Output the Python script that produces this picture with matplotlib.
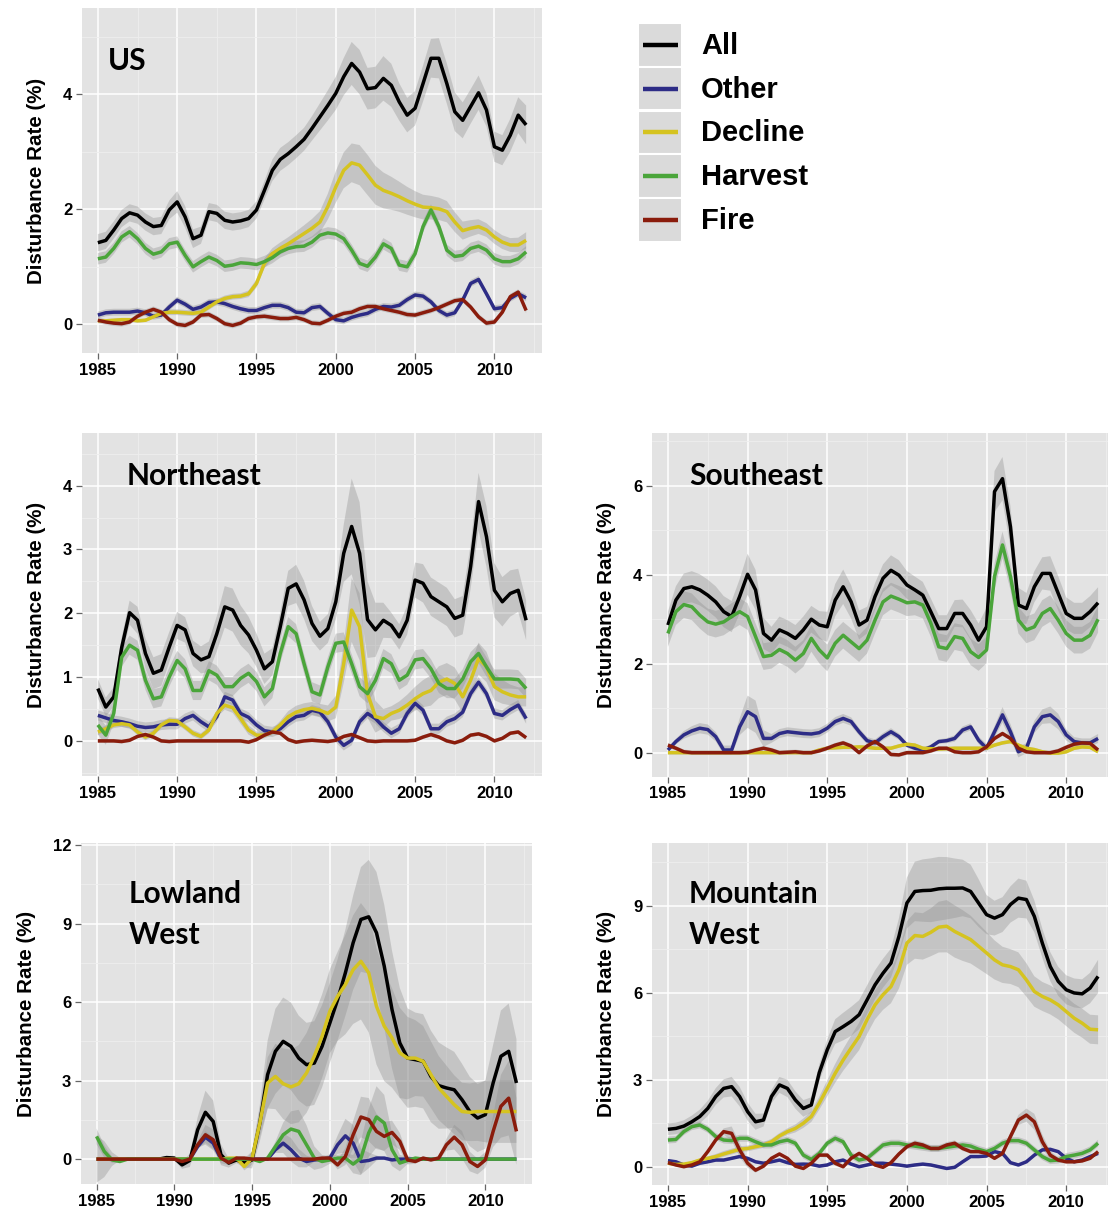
import numpy as np
import matplotlib
matplotlib.use("Agg")
import matplotlib.pyplot as plt
from matplotlib.patches import Rectangle
from matplotlib.ticker import MultipleLocator

# ---------------- data (values every half year, 1985 .. 2012) ----------------
YEAR_START, YEAR_END, STEP = 1985, 2012, 0.5
SERIES = ["All", "Other", "Decline", "Harvest", "Fire"]

US_ALL = [1.42,1.46,1.64,1.84,1.94,1.90,1.78,1.70,1.72,1.99,
          2.13,1.87,1.49,1.55,1.96,1.93,1.81,1.78,1.80,1.84,
          1.99,2.33,2.68,2.87,2.97,3.09,3.22,3.41,3.61,3.81,
          4.02,4.31,4.54,4.39,4.10,4.12,4.28,4.16,3.87,3.64,
          3.76,4.19,4.63,4.63,4.19,3.70,3.55,3.79,4.03,3.73,
          3.09,3.03,3.29,3.64,3.47]
US_OTHER = [0.16,0.20,0.21,0.21,0.21,0.23,0.20,0.14,0.16,0.30,
            0.42,0.35,0.26,0.30,0.38,0.39,0.36,0.31,0.27,0.24,
            0.24,0.29,0.33,0.33,0.29,0.21,0.20,0.29,0.31,0.19,
            0.08,0.06,0.12,0.16,0.19,0.26,0.31,0.30,0.33,0.43,
            0.51,0.49,0.39,0.24,0.16,0.20,0.42,0.71,0.78,0.53,
            0.27,0.29,0.45,0.53,0.46]
US_DECL = [0.06,0.06,0.07,0.08,0.08,0.06,0.07,0.13,0.19,0.21,
           0.21,0.20,0.19,0.21,0.30,0.39,0.45,0.48,0.49,0.53,
           0.71,1.06,1.23,1.32,1.40,1.49,1.58,1.67,1.78,2.05,
           2.39,2.68,2.81,2.77,2.60,2.42,2.33,2.28,2.22,2.15,
           2.09,2.04,2.03,2.01,1.96,1.78,1.63,1.67,1.70,1.64,
           1.52,1.43,1.38,1.38,1.46]
US_HARV = [1.14,1.17,1.32,1.52,1.61,1.49,1.32,1.22,1.26,1.40,
           1.43,1.20,1.00,1.09,1.17,1.11,1.01,1.03,1.07,1.06,
           1.04,1.09,1.16,1.26,1.32,1.35,1.36,1.43,1.55,1.59,
           1.57,1.49,1.29,1.06,1.01,1.17,1.40,1.32,1.03,1.00,
           1.23,1.70,1.99,1.70,1.29,1.18,1.20,1.32,1.36,1.29,
           1.14,1.09,1.09,1.14,1.26]
US_FIRE = [0.07,0.04,0.02,0.01,0.04,0.14,0.21,0.26,0.21,0.08,
           0.00,-0.02,0.04,0.16,0.17,0.10,0.01,-0.02,0.02,0.10,
           0.13,0.14,0.12,0.10,0.10,0.12,0.08,0.02,0.01,0.07,
           0.14,0.19,0.21,0.27,0.31,0.31,0.27,0.24,0.21,0.17,
           0.16,0.20,0.24,0.29,0.35,0.41,0.43,0.30,0.13,0.02,
           0.04,0.21,0.48,0.56,0.24]

NE_ALL = [0.82,0.53,0.69,1.46,2.01,1.89,1.37,1.06,1.11,1.47,
          1.81,1.74,1.37,1.27,1.32,1.68,2.10,2.05,1.81,1.66,
          1.42,1.13,1.24,1.79,2.39,2.46,2.21,1.84,1.64,1.76,
          2.18,2.94,3.36,2.94,1.90,1.74,1.89,1.81,1.63,1.89,
          2.52,2.47,2.26,2.18,2.10,1.92,1.97,2.73,3.75,3.20,
          2.36,2.18,2.31,2.36,1.89]
NE_OTHER = [0.40,0.36,0.32,0.30,0.27,0.23,0.21,0.22,0.25,0.26,
            0.26,0.35,0.40,0.30,0.22,0.38,0.69,0.64,0.43,0.37,
            0.25,0.16,0.14,0.19,0.30,0.38,0.40,0.48,0.45,0.30,
            0.06,-0.07,0.01,0.30,0.43,0.35,0.22,0.12,0.19,0.43,
            0.59,0.48,0.19,0.19,0.30,0.35,0.45,0.74,0.92,0.74,
            0.43,0.40,0.49,0.56,0.35]
NE_DECL = [0.14,0.19,0.25,0.27,0.25,0.14,0.06,0.12,0.25,0.32,
           0.31,0.22,0.12,0.07,0.17,0.43,0.56,0.52,0.35,0.17,
           0.09,0.09,0.14,0.25,0.38,0.45,0.49,0.51,0.48,0.43,
           0.53,1.21,2.05,1.79,0.74,0.38,0.35,0.43,0.48,0.56,
           0.66,0.74,0.79,0.92,0.97,0.90,0.69,0.95,1.29,1.16,
           0.85,0.77,0.72,0.69,0.69]
NE_HARV = [0.25,0.09,0.43,1.31,1.50,1.42,0.95,0.66,0.69,1.00,
           1.26,1.13,0.79,0.79,1.10,1.03,0.85,0.85,0.98,1.06,
           0.93,0.69,0.82,1.37,1.79,1.68,1.21,0.77,0.72,1.16,
           1.53,1.55,1.21,0.85,0.74,0.95,1.29,1.21,0.95,1.03,
           1.27,1.29,1.13,0.90,0.82,0.82,0.97,1.24,1.37,1.16,
           0.97,0.97,0.97,0.96,0.82]
NE_FIRE = [0.0,0.0,0.0,-0.01,0.01,0.07,0.10,0.06,0.0,-0.01,
           0.0,0.0,0.0,0.0,0.0,0.0,0.0,0.0,0.0,-0.02,
           0.02,0.09,0.14,0.12,0.02,-0.02,0.0,0.01,0.0,-0.01,
           0.01,0.07,0.10,0.05,0.0,-0.01,0.0,0.0,0.0,0.0,
           0.01,0.06,0.10,0.06,0.0,-0.03,0.01,0.09,0.11,0.07,
           0.0,0.04,0.12,0.14,0.05]

SE_ALL = [2.87,3.43,3.69,3.73,3.66,3.54,3.39,3.17,3.06,3.51,
          4.01,3.66,2.68,2.53,2.76,2.68,2.57,2.76,3.00,2.87,
          2.83,3.43,3.73,3.39,2.87,2.98,3.51,3.92,4.10,3.99,
          3.77,3.66,3.54,3.17,2.79,2.79,3.13,3.13,2.87,2.53,
          2.83,5.87,6.16,5.08,3.32,3.24,3.73,4.03,4.03,3.58,
          3.13,3.02,3.02,3.17,3.37]
SE_OTHER = [0.06,0.25,0.40,0.49,0.55,0.52,0.36,0.06,0.06,0.58,
            0.92,0.81,0.32,0.32,0.43,0.47,0.45,0.43,0.42,0.45,
            0.55,0.70,0.77,0.70,0.47,0.27,0.22,0.36,0.47,0.36,
            0.17,0.10,0.06,0.13,0.25,0.27,0.32,0.51,0.58,0.28,
            0.10,0.47,0.85,0.47,0.02,0.10,0.58,0.81,0.85,0.70,
            0.40,0.25,0.22,0.22,0.32]
SE_DECL = [0.0,0.0,0.0,0.0,0.0,0.0,0.0,0.0,0.0,0.0,
           0.0,0.0,0.0,0.0,0.0,0.0,0.0,0.0,0.0,0.06,
           0.10,0.11,0.12,0.12,0.13,0.12,0.10,0.10,0.10,0.15,
           0.19,0.17,0.10,0.09,0.08,0.09,0.10,0.10,0.10,0.10,
           0.10,0.17,0.22,0.25,0.17,0.10,0.07,0.02,-0.01,-0.01,
           0.02,0.10,0.13,0.12,0.02]
SE_HARV = [2.68,3.17,3.33,3.28,3.09,2.94,2.89,2.94,3.06,3.17,
           3.06,2.61,2.16,2.19,2.32,2.23,2.08,2.23,2.57,2.31,
           2.13,2.46,2.64,2.49,2.34,2.53,2.98,3.39,3.52,3.45,
           3.37,3.39,3.32,2.91,2.38,2.34,2.61,2.57,2.27,2.14,
           2.31,3.96,4.67,3.96,2.98,2.76,2.83,3.13,3.24,2.98,
           2.68,2.53,2.53,2.64,3.00]
SE_FIRE = [0.17,0.10,0.02,0.0,0.0,0.0,0.0,0.0,0.0,0.0,
           0.01,0.06,0.10,0.06,0.0,0.01,0.02,0.0,0.0,0.04,
           0.10,0.17,0.22,0.15,0.0,0.15,0.25,0.13,-0.04,-0.05,
           0.0,0.0,0.0,0.04,0.10,0.10,0.02,0.0,0.0,0.02,
           0.13,0.32,0.43,0.32,0.10,0.02,0.0,0.0,0.0,0.04,
           0.12,0.19,0.22,0.21,0.06]

LW_ALL = [0.0,0.0,0.0,0.0,0.0,0.0,0.0,0.0,0.0,0.06,
          0.04,-0.22,-0.05,1.12,1.79,1.44,0.17,-0.15,-0.03,-0.15,
          -0.03,1.38,3.23,4.12,4.50,4.31,3.86,3.61,3.67,4.31,
          5.20,6.09,7.12,8.27,9.16,9.26,8.65,7.37,5.71,4.44,
          3.86,3.80,3.74,3.16,2.81,2.72,2.65,2.27,1.82,1.57,
          1.70,2.91,3.93,4.12,2.91]
LW_OTHER = [0.0,0.0,0.0,0.0,0.0,0.0,0.0,0.0,0.0,0.0,
            0.0,0.0,0.0,0.48,0.84,0.61,0.0,0.0,0.0,0.0,
            0.0,0.0,0.0,0.36,0.61,0.36,0.04,-0.09,-0.03,0.0,
            0.04,0.55,0.89,0.61,-0.09,-0.05,0.04,0.04,-0.03,0.0,
            0.0,0.0,0.0,0.0,0.0,0.0,0.0,0.0,0.0,0.0,
            0.0,0.0,0.0,0.0,0.0]
LW_DECL = [0.0,0.0,0.0,0.0,0.0,0.0,0.0,0.0,0.0,0.0,
           0.0,0.0,0.0,0.0,0.0,0.0,0.0,0.04,0.04,-0.28,
           0.04,1.38,2.91,3.16,2.88,2.76,2.88,3.29,3.93,4.69,
           5.65,6.22,6.67,7.24,7.56,7.12,5.84,5.08,4.63,4.06,
           3.86,3.86,3.74,3.23,2.72,2.40,2.08,1.82,1.79,1.82,
           1.82,1.82,1.82,1.82,1.82]
LW_HARV = [0.87,0.29,-0.03,-0.09,0.0,0.0,0.0,0.0,0.0,0.0,
           0.0,0.0,0.0,0.0,0.0,0.0,0.0,0.0,0.0,0.0,
           0.0,-0.09,0.04,0.48,0.93,1.15,1.06,0.55,0.04,-0.09,
           -0.03,0.04,0.04,-0.19,0.04,1.00,1.61,1.38,0.36,-0.15,
           -0.05,0.04,0.0,0.0,0.0,0.0,0.0,0.0,0.0,0.0,
           0.0,0.0,0.0,0.0,0.0]
LW_FIRE = [0.0,0.0,0.0,0.0,0.0,0.0,0.0,0.0,0.0,0.0,
           0.0,-0.09,0.0,0.55,0.93,0.74,0.04,-0.13,0.04,0.04,
           0.0,0.0,0.0,0.0,0.0,0.0,0.0,0.0,0.0,0.04,
           0.04,-0.22,0.10,0.93,1.61,1.51,1.06,0.87,1.02,0.68,
           -0.03,-0.09,0.04,-0.03,0.04,0.55,0.84,0.55,-0.09,-0.28,
           -0.03,1.06,2.02,2.33,1.06]

MW_ALL = [1.29,1.32,1.40,1.55,1.73,2.01,2.42,2.70,2.76,2.42,
          1.90,1.55,1.61,2.42,2.82,2.70,2.30,2.01,2.13,3.24,
          4.03,4.66,4.83,5.01,5.24,5.75,6.27,6.67,7.02,7.94,
          9.09,9.49,9.52,9.53,9.58,9.60,9.60,9.61,9.49,9.09,
          8.69,8.57,8.69,9.04,9.26,9.21,8.63,7.71,6.90,6.39,
          6.10,5.99,5.96,6.16,6.56]
MW_OTHER = [0.21,0.17,0.06,0.02,0.12,0.17,0.23,0.23,0.29,0.35,
            0.29,0.17,0.12,0.17,0.23,0.14,0.08,0.09,0.08,0.02,
            0.06,0.17,0.23,0.09,0.0,0.06,0.12,0.12,0.09,0.06,
            0.02,0.06,0.09,0.06,0.0,-0.06,-0.02,0.17,0.35,0.35,
            0.37,0.52,0.46,0.14,0.06,0.17,0.40,0.58,0.60,0.52,
            0.29,0.17,0.23,0.35,0.46]
MW_DECL = [0.12,0.08,0.09,0.14,0.23,0.29,0.35,0.44,0.52,0.60,
           0.63,0.69,0.75,0.86,1.06,1.21,1.32,1.50,1.73,2.19,
           2.70,3.22,3.68,4.09,4.49,5.07,5.58,5.93,6.21,6.79,
           7.71,7.97,7.94,8.08,8.26,8.29,8.11,7.97,7.83,7.60,
           7.37,7.13,6.96,6.90,6.79,6.44,6.04,5.87,5.75,5.58,
           5.35,5.12,4.95,4.74,4.72]
MW_HARV = [0.92,0.94,1.21,1.38,1.44,1.29,1.04,0.92,0.90,0.98,
           0.98,0.86,0.75,0.75,0.86,0.92,0.81,0.40,0.25,0.46,
           0.81,0.98,0.86,0.40,0.23,0.29,0.52,0.75,0.81,0.81,
           0.75,0.71,0.67,0.63,0.63,0.67,0.71,0.75,0.71,0.60,
           0.52,0.63,0.81,0.90,0.90,0.81,0.58,0.35,0.21,0.23,
           0.35,0.40,0.46,0.58,0.81]
MW_FIRE = [0.14,0.06,0.0,0.06,0.17,0.52,0.92,1.21,1.15,0.58,
           0.12,-0.12,0.02,0.29,0.44,0.29,0.02,-0.06,0.12,0.40,
           0.40,0.12,0.0,0.29,0.46,0.29,0.06,-0.02,0.14,0.44,
           0.69,0.81,0.75,0.63,0.63,0.75,0.81,0.63,0.52,0.52,
           0.46,0.29,0.46,1.04,1.61,1.78,1.55,0.86,0.40,0.23,
           0.17,0.17,0.20,0.29,0.52]

# ---- half-widths of the confidence ribbons (per year 1985..2012, or one value) ----
US_ALL_SE = [0.15,0.15,0.15,0.15,0.15,0.2,0.15,0.15,0.15,0.15,0.15,0.2,0.2,0.2,
             0.25,0.3,0.4,0.35,0.4,0.3,0.3,0.35,0.35,0.3,0.3,0.25,0.3,0.35]
US_OTHER_SE = 0.06
US_DECL_SE = [0.03,0.03,0.03,0.03,0.05,0.05,0.05,0.05,0.05,0.05,0.08,0.1,0.12,0.15,
              0.2,0.3,0.35,0.35,0.3,0.25,0.22,0.2,0.18,0.15,0.12,0.12,0.12,0.15]
US_HARV_SE = 0.1
US_FIRE_SE = 0.05

NE_ALL_SE = [0.15,0.15,0.2,0.25,0.25,0.2,0.2,0.25,0.35,0.3,0.25,0.2,0.3,0.3,
             0.2,0.3,0.9,0.5,0.2,0.2,0.3,0.3,0.3,0.3,0.5,0.4,0.35,0.3]
NE_OTHER_SE = 0.08
NE_DECL_SE = [0.05,0.05,0.05,0.05,0.05,0.05,0.05,0.05,0.08,0.08,0.05,0.05,0.1,0.1,
              0.1,0.2,0.6,0.3,0.1,0.15,0.2,0.25,0.25,0.25,0.25,0.2,0.15,0.15]
NE_HARV_SE = 0.15
NE_FIRE_SE = 0.03

SE_ALL_SE = [0.3,0.35,0.35,0.35,0.35,0.5,0.3,0.3,0.3,0.3,0.35,0.4,0.3,0.3,
             0.35,0.3,0.3,0.3,0.3,0.35,0.45,0.5,0.35,0.35,0.4,0.35,0.35,0.35]
SE_OTHER_SE = [0.05,0.1,0.12,0.1,0.1,0.45,0.1,0.1,0.1,0.1,0.1,0.1,0.08,0.08,
               0.08,0.05,0.05,0.05,0.08,0.08,0.1,0.2,0.1,0.15,0.2,0.1,0.1,0.1]
SE_DECL_SE = 0.04
SE_HARV_SE = 0.3
SE_FIRE_SE = 0.05

LW_ALL_SE = [0.9,0.05,0.05,0.05,0.05,0.1,0.3,1.0,0.2,0.1,0.4,1.6,1.7,1.6,
             1.6,1.5,1.7,2.1,2.4,2.2,1.8,1.8,1.6,1.4,1.3,1.3,1.9,1.6]
LW_OTHER_SE = [0,0,0,0,0,0,0,0.3,0,0,0,0,0.5,0.3,
               0,0.2,0.8,0.4,0,0,0,0,0,0,0,0,0,0]
LW_DECL_SE = [0,0,0,0,0,0,0,0,0,0.1,0.3,1.2,1.4,1.5,
              1.6,1.6,2.0,2.3,2.2,1.8,1.5,1.3,1.2,1.1,1.1,1.2,1.2,1.2]
LW_HARV_SE = [0.3,0.05,0,0,0,0,0,0,0,0,0,0.05,0.6,0.9,
              0.3,0.1,0.2,0.8,1.3,0.4,0.05,0,0,0,0,0,0,0]
LW_FIRE_SE = [0,0,0,0,0,0,0,0.5,0.1,0.05,0,0,0,0,
              0,0.1,0.4,0.9,0.6,0.4,0.1,0.05,0.1,0.6,0.3,0.3,1.5,1.2]

MW_ALL_SE = [0.2,0.2,0.25,0.3,0.35,0.3,0.2,0.3,0.3,0.25,0.4,0.5,0.5,0.5,
             0.5,1.0,1.1,1.1,1.0,0.9,0.6,0.6,0.7,0.5,0.5,0.5,0.5,0.6]
MW_OTHER_SE = 0.05
MW_DECL_SE = [0.05,0.05,0.05,0.1,0.1,0.1,0.1,0.1,0.15,0.2,0.3,0.4,0.5,0.5,
              0.6,0.8,0.8,0.9,0.9,0.8,0.7,0.6,0.6,0.5,0.5,0.5,0.5,0.5]
MW_HARV_SE = 0.12
MW_FIRE_SE = [0.05,0.05,0.05,0.05,0.3,0.1,0.05,0.05,0.05,0.05,0.1,0.05,0.05,0.05,
              0.05,0.1,0.1,0.1,0.1,0.05,0.05,0.1,0.2,0.3,0.1,0.05,0.05,0.05]

PANEL_NAMES = ["US", "Northeast", "Southeast", "Lowland\nWest", "Mountain\nWest"]
X_TICKS = [1985, 1990, 1995, 2000, 2005, 2010]

# ---------------- styling ----------------
COLORS = {"All": "#000000", "Other": "#2d2c86", "Decline": "#d5c320",
          "Harvest": "#4aa53a", "Fire": "#8a1c0c"}
BG = "#e3e3e3"
W, H = 1108, 1209
LABEL_FONT = ["Liberation Sans", "DejaVu Sans"]
TITLE_FONT = ["Lato", "Open Sans", "DejaVu Sans"]

fig = plt.figure(figsize=(W / 100, H / 100), dpi=100)
fig.patch.set_facecolor("white")

x = np.arange(YEAR_START, YEAR_END + STEP / 2, STEP)


def widths(se):
    arr = np.atleast_1d(np.asarray(se, dtype=float))
    if arr.size == 1:
        return np.full(x.size, arr[0])
    w = np.repeat(arr, 2)[: x.size]
    # soften the yearly steps of the ribbon width
    k = np.array([0.25, 0.5, 0.25])
    padded = np.concatenate([[w[0]], w, [w[-1]]])
    return np.convolve(padded, k, mode="valid")


def add_axes_px(left, top, right, bottom):
    return fig.add_axes([left / W, 1 - bottom / H, (right - left) / W, (bottom - top) / H])


def draw_panel(ax, data, ses, ylim, ystep, title, title_xy, title_lines_gap=None):
    ax.set_facecolor(BG)
    ax.set_xlim(1984.0, 2013.0)
    ax.set_ylim(*ylim)
    for s in SERIES:
        v = np.asarray(data[s], dtype=float)
        if v.size != x.size:
            raise ValueError(f"{title} {s}: {v.size} values")
        w = widths(ses[s])
        ax.fill_between(x, v - w, v + w, facecolor="#8c8c8c", alpha=0.35,
                        linewidth=0, zorder=2)
    for s in SERIES:
        ax.plot(x, data[s], color=COLORS[s], lw=2.5, zorder=3,
                solid_joinstyle="round", solid_capstyle="butt")
    ax.set_xticks(X_TICKS)
    ax.xaxis.set_minor_locator(MultipleLocator(2.5))
    ax.yaxis.set_major_locator(MultipleLocator(ystep))
    ax.yaxis.set_minor_locator(MultipleLocator(ystep / 2))
    ax.grid(which="major", color="white", lw=1.1, zorder=1)
    ax.grid(which="minor", color="#eeeeee", lw=0.6, zorder=1)
    ax.set_axisbelow(True)
    for sp in ax.spines.values():
        sp.set_visible(False)
    ax.tick_params(which="major", length=4, width=0.9, color="#666666",
                   labelsize=12, pad=3)
    ax.tick_params(which="minor", length=0)
    for lab in ax.get_xticklabels() + ax.get_yticklabels():
        lab.set_fontweight("bold")
        lab.set_fontfamily(LABEL_FONT)
    ax.set_ylabel("Disturbance Rate (%)", fontsize=14.8, fontweight="bold",
                  family=LABEL_FONT, labelpad=12)
    lines = title.split("\n")
    for i, line in enumerate(lines):
        ax.text(title_xy[0], title_xy[1] - i * (title_lines_gap or 0), line,
                transform=ax.transAxes, fontsize=21.5, fontweight="bold",
                family=TITLE_FONT, va="baseline", ha="left", zorder=5)


def pack(a, o, d, h, f):
    return {"All": a, "Other": o, "Decline": d, "Harvest": h, "Fire": f}


ax_us = add_axes_px(82, 8.3, 542, 353)
draw_panel(ax_us, pack(US_ALL, US_OTHER, US_DECL, US_HARV, US_FIRE),
           pack(US_ALL_SE, US_OTHER_SE, US_DECL_SE, US_HARV_SE, US_FIRE_SE),
           (-0.5, 5.5), 2, PANEL_NAMES[0], (0.057, 0.822))

ax_ne = add_axes_px(82, 433.3, 542, 776)
draw_panel(ax_ne, pack(NE_ALL, NE_OTHER, NE_DECL, NE_HARV, NE_FIRE),
           pack(NE_ALL_SE, NE_OTHER_SE, NE_DECL_SE, NE_HARV_SE, NE_FIRE_SE),
           (-0.55, 4.82), 1, PANEL_NAMES[1], (0.096, 0.849))

ax_se = add_axes_px(652, 433.3, 1114, 776.7)
draw_panel(ax_se, pack(SE_ALL, SE_OTHER, SE_DECL, SE_HARV, SE_FIRE),
           pack(SE_ALL_SE, SE_OTHER_SE, SE_DECL_SE, SE_HARV_SE, SE_FIRE_SE),
           (-0.54, 7.18), 2, PANEL_NAMES[2], (0.080, 0.849))

ax_lw = add_axes_px(81, 843, 532, 1184)
draw_panel(ax_lw, pack(LW_ALL, LW_OTHER, LW_DECL, LW_HARV, LW_FIRE),
           pack(LW_ALL_SE, LW_OTHER_SE, LW_DECL_SE, LW_HARV_SE, LW_FIRE_SE),
           (-0.95, 12.08), 3, PANEL_NAMES[3], (0.106, 0.824), 0.120)

ax_mw = add_axes_px(652, 842.7, 1114, 1185)
draw_panel(ax_mw, pack(MW_ALL, MW_OTHER, MW_DECL, MW_HARV, MW_FIRE),
           pack(MW_ALL_SE, MW_OTHER_SE, MW_DECL_SE, MW_HARV_SE, MW_FIRE_SE),
           (-0.63, 11.17), 3, PANEL_NAMES[4], (0.080, 0.824), 0.120)

# ---------------- legend (drawn in figure pixel space) ----------------
leg = fig.add_axes([0, 0, 1, 1], zorder=10)
leg.set_xlim(0, W)
leg.set_ylim(H, 0)
leg.axis("off")
row_top, row_h = 22.7, 43.9
for i, s in enumerate(SERIES):
    y0 = row_top + i * row_h
    leg.add_patch(Rectangle((638, y0), 44, row_h, facecolor="#dadada",
                            edgecolor="white", lw=1.5))
    yc = y0 + row_h / 2
    leg.plot([643, 678], [yc, yc], color=COLORS[s], lw=3.2, solid_capstyle="butt")
    leg.text(701, yc + 1, s, fontsize=21, fontweight="bold", family=LABEL_FONT,
             va="center", ha="left")

fig.savefig("out.png", dpi=100, facecolor="white")
